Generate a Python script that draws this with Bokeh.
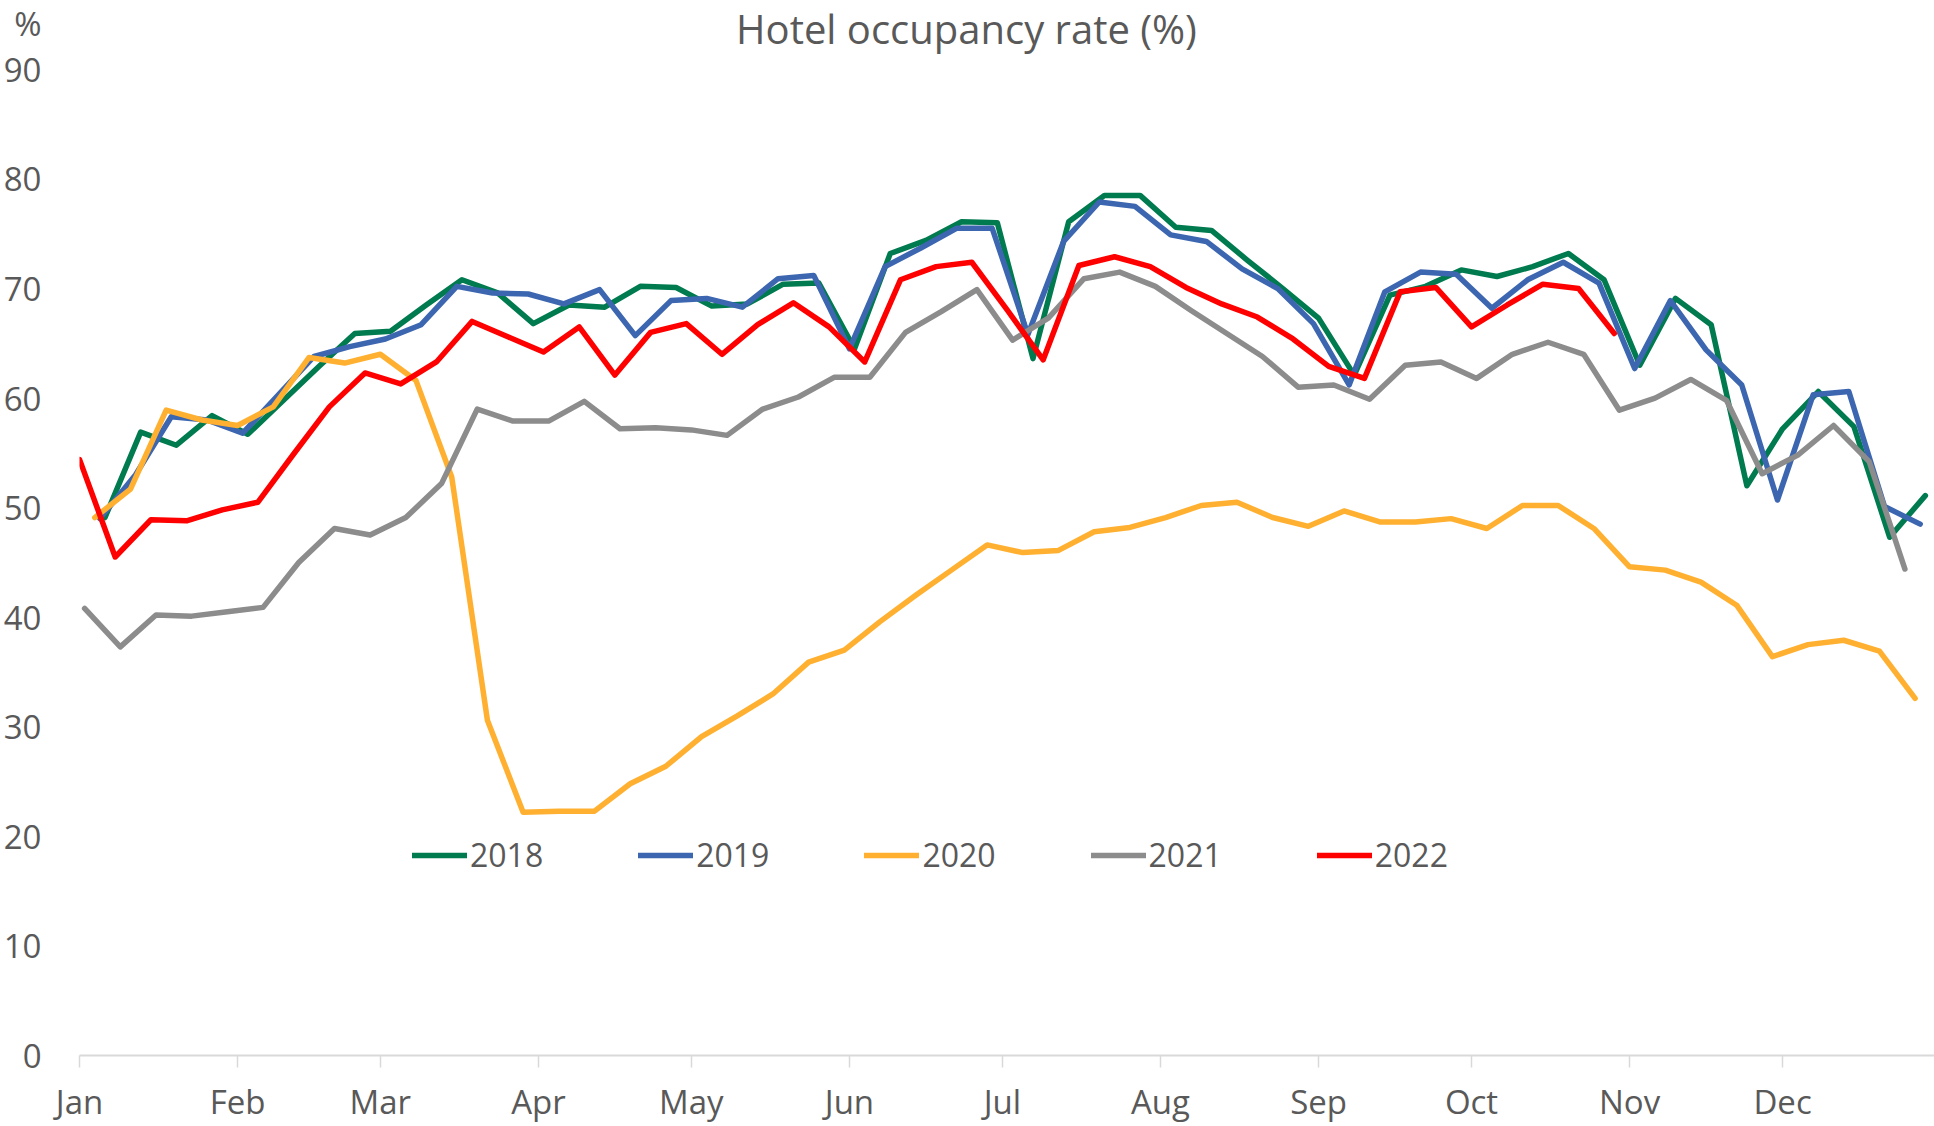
from datetime import date

from bokeh.plotting import figure
from bokeh.models import (ColumnDataSource, FixedTicker, Legend, LegendItem,
                          Label, Range1d)
from bokeh.embed import file_html
from bokeh.resources import INLINE

# ---------------- data ----------------
TITLE = "Hotel occupancy rate (%)"
Y_UNIT = "%"
MONTHS = ["Jan", "Feb", "Mar", "Apr", "May", "Jun",
          "Jul", "Aug", "Sep", "Oct", "Nov", "Dec"]
Y_TICKS = [0, 10, 20, 30, 40, 50, 60, 70, 80, 90]
YEARS = [2018, 2019, 2020, 2021, 2022]

# weekly occupancy (%), week ending Saturday, first week of each year onward
OCC_2018 = [49.1, 56.9, 55.7, 58.4, 56.7, 59.8, 62.9, 65.9, 66.1, 68.5, 70.8,
            69.6, 66.8, 68.5, 68.3, 70.2, 70.1, 68.4, 68.6, 70.4, 70.5, 64.5,
            73.2, 74.4, 76.1, 76.0, 63.6, 76.1, 78.5, 78.5, 75.6, 75.3, 72.6,
            70.0, 67.3, 62.1, 69.4, 70.2, 71.7, 71.1, 72.0, 73.2, 70.8, 63.0,
            69.1, 66.7, 52.0, 57.2, 60.6, 57.4, 47.3, 51.1]
OCC_2019 = [49.0, 53.0, 58.3, 58.0, 56.8, 60.3, 63.8, 64.7, 65.4, 66.7, 70.2,
            69.6, 69.5, 68.6, 69.9, 65.7, 68.9, 69.1, 68.3, 70.9, 71.2, 64.5,
            72.0, 73.7, 75.5, 75.5, 65.8, 74.3, 77.9, 77.5, 74.9, 74.3, 71.8,
            70.0, 66.8, 61.2, 69.7, 71.5, 71.3, 68.2, 70.8, 72.4, 70.5, 62.7,
            68.9, 64.4, 61.2, 50.7, 60.3, 60.6, 50.1, 48.5]
OCC_2020 = [49.1, 51.7, 58.9, 58.0, 57.5, 59.2, 63.7, 63.2, 64.0, 61.6, 52.8,
            30.6, 22.2, 22.3, 22.3, 24.8, 26.4, 29.1, 31.0, 33.0, 35.9, 37.0,
            39.6, 42.0, 44.3, 46.6, 45.9, 46.1, 47.8, 48.2, 49.1, 50.2, 50.5,
            49.1, 48.3, 49.7, 48.7, 48.7, 49.0, 48.1, 50.2, 50.2, 48.1, 44.6,
            44.3, 43.2, 41.1, 36.4, 37.5, 37.9, 36.9, 32.6]
OCC_2021 = [40.8, 37.3, 40.2, 40.1, 40.5, 40.9, 45.0, 48.1, 47.5, 49.1, 52.2,
            59.0, 57.9, 57.9, 59.7, 57.2, 57.3, 57.1, 56.6, 59.0, 60.1, 61.9,
            61.9, 66.0, 67.9, 69.9, 65.3, 67.3, 70.9, 71.5, 70.2, 68.0, 65.9,
            63.8, 61.0, 61.2, 59.9, 63.0, 63.3, 61.8, 64.0, 65.1, 64.0, 58.9,
            60.0, 61.7, 59.8, 53.1, 54.8, 57.5, 54.2, 44.4]
OCC_2022 = [54.4, 45.5, 48.9, 48.8, 49.8, 50.5, 54.9, 59.2, 62.3, 61.3, 63.3,
            67.0, 65.6, 64.2, 66.5, 62.1, 66.0, 66.8, 64.0, 66.7, 68.7, 66.5,
            63.3, 70.8, 72.0, 72.4, 68.0, 63.5, 72.1, 72.9, 72.0, 70.1, 68.6,
            67.4, 65.4, 62.9, 61.8, 69.7, 70.1, 66.5, 68.5, 70.4, 70.0, 65.9]

SERIES = [OCC_2018, OCC_2019, OCC_2020, OCC_2021, OCC_2022]
COLORS = ["#007A4F", "#3C66B0", "#FFB030", "#8C8C8C", "#FF0000"]

FONT = "Open Sans"
TEXT = "#595959"

# layout constants (data-space positions of the header texts)
Y_TOP = 96.29
TITLE_Y = 93.69
UNIT_Y = 94.47
TITLE_X_PX = 887


def first_saturday_offset(year):
    d0 = date(year, 1, 1)
    return (5 - d0.weekday()) % 7


month_days = [(date(2018, m, 1) - date(2018, 1, 1)).days for m in range(1, 13)]

# ---------------- figure ----------------
p = figure(width=1934, height=1126, output_backend="svg", toolbar_location=None,
           title=None,
           x_range=Range1d(0, 363.8), y_range=Range1d(0, Y_TOP),
           min_border_left=78, min_border_right=0,
           min_border_top=0, min_border_bottom=70)
p.outline_line_color = None
p.background_fill_color = "white"
p.border_fill_color = "white"
p.xgrid.grid_line_color = None
p.ygrid.grid_line_color = None

# y axis (the unit sign sits above the top tick, as in the original)
p.yaxis.ticker = FixedTicker(ticks=Y_TICKS + [UNIT_Y])
p.yaxis.major_label_overrides = {UNIT_Y: Y_UNIT}
p.yaxis.axis_line_color = None
p.yaxis.major_tick_line_color = None
p.yaxis.minor_tick_line_color = None
p.yaxis.major_label_standoff = 32
p.yaxis.major_label_text_font = FONT
p.yaxis.major_label_text_font_size = "33px"
p.yaxis.major_label_text_color = TEXT

# x axis
p.xaxis.ticker = FixedTicker(ticks=month_days)
p.xaxis.major_label_overrides = {d: m for d, m in zip(month_days, MONTHS)}
p.xaxis.axis_line_color = "#D9D9D9"
p.xaxis.axis_line_width = 2
p.xaxis.major_tick_line_color = "#D9D9D9"
p.xaxis.major_tick_line_width = 1.5
p.xaxis.major_tick_in = 0
p.xaxis.major_tick_out = 12
p.xaxis.minor_tick_line_color = None
p.xaxis.major_label_standoff = 11
p.xaxis.major_label_text_font = FONT
p.xaxis.major_label_text_font_size = "33px"
p.xaxis.major_label_text_color = TEXT

items = []
for year, vals, color in zip(YEARS, SERIES, COLORS):
    off = first_saturday_offset(year)
    src = ColumnDataSource(dict(x=[off + 7 * k for k in range(len(vals))], y=vals))
    r = p.line("x", "y", source=src, line_color=color, line_width=5.5,
               line_join="round", line_cap="round")
    items.append(LegendItem(label=str(year), renderers=[r]))

legend = Legend(items=items, orientation="horizontal", location=(333, 179),
                glyph_width=55, glyph_height=30, label_standoff=3, spacing=95,
                padding=0, margin=0, background_fill_alpha=0,
                border_line_alpha=0,
                label_text_font=FONT, label_text_font_size="32px",
                label_text_color=TEXT)
p.add_layout(legend)

p.add_layout(Label(x=TITLE_X_PX, y=TITLE_Y, x_units="screen", y_units="data",
                   text=TITLE, text_align="center", text_baseline="middle",
                   text_font=FONT, text_font_size="40px", text_color=TEXT))

open("out.html", "w").write(file_html(p, INLINE))
